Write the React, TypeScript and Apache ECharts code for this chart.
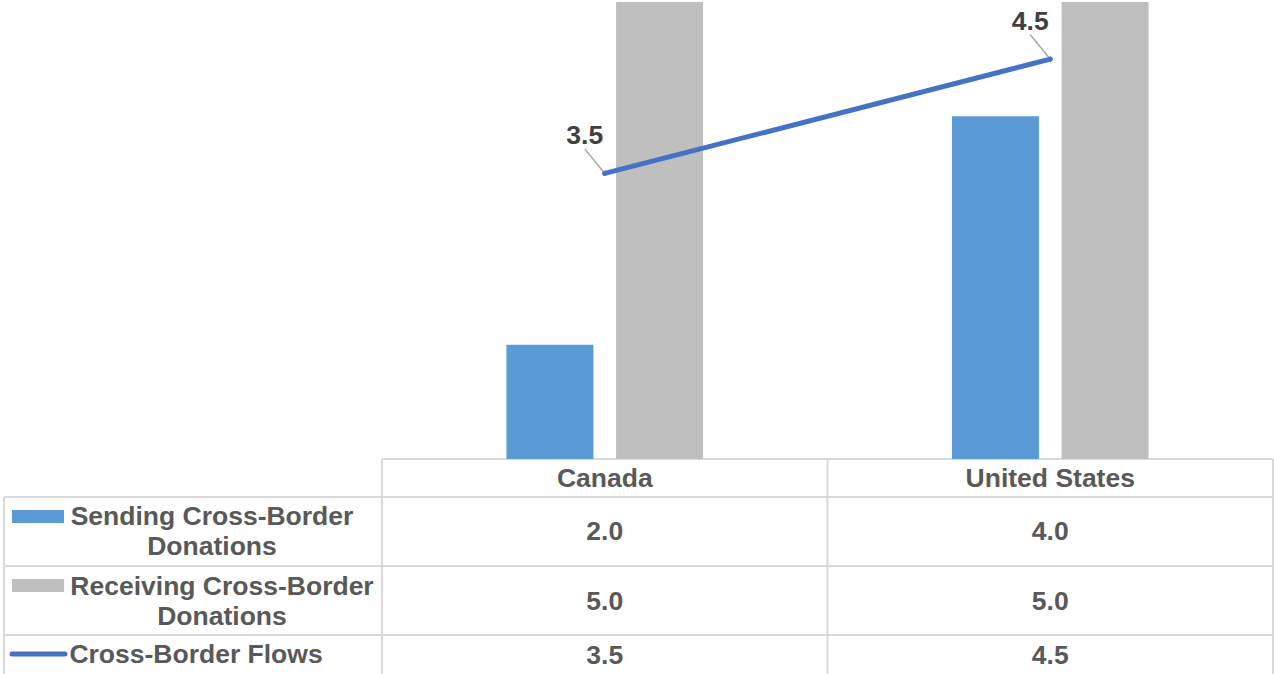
import React, { useEffect, useRef } from "react";
import * as echarts from "echarts";

const categories = ["Canada", "United States"];
const sendingValues = [2.0, 4.0];
const receivingValues = [5.0, 5.0];
const flowValues = [3.5, 4.5];
const seriesNames = ["Sending Cross-Border\nDonations", "Receiving Cross-Border\nDonations", "Cross-Border Flows"];

const TEXT = "#595959";
const BORDER = "#D9D9D9";
const FONT = "'Liberation Sans', Arial, sans-serif";

export default function App() {
  const ref = useRef<HTMLDivElement>(null);
  useEffect(() => {
    const chart = echarts.init(ref.current!, null, { renderer: "svg" });

    const gridLeft = 382;
    const gridRight = 1273;
    const tableTop = 459;
    const rows = [497, 566, 635];
    const colW = (gridRight - gridLeft) / categories.length;
    const colCenters = categories.map((_, i) => gridLeft + colW * (i + 0.5));

    const line = (x1: number, y1: number, x2: number, y2: number) => ({
      type: "line",
      shape: { x1, y1, x2, y2 },
      style: { stroke: BORDER, lineWidth: 2 },
      silent: true,
    });
    const txt = (x: number, y: number, t: string, extra: any = {}) => ({
      type: "text",
      x,
      y,
      style: {
        text: t,
        fill: TEXT,
        font: `bold 26.5px ${FONT}`,
        textAlign: "center",
        textVerticalAlign: "middle",
        lineHeight: 30,
        ...extra,
      },
      silent: true,
    });

    const graphics: any[] = [
      line(gridLeft, tableTop, gridRight, tableTop),
      line(4, rows[0], gridRight, rows[0]),
      line(4, rows[1], gridRight, rows[1]),
      line(4, rows[2], gridRight, rows[2]),
      line(4, rows[0], 4, 674),
      line(gridLeft, tableTop, gridLeft, 674),
      line(gridLeft + colW, tableTop, gridLeft + colW, 674),
      line(gridRight, tableTop, gridRight, 674),
    ];
    categories.forEach((c, i) => {
      graphics.push(txt(colCenters[i], 478, c));
      graphics.push(txt(colCenters[i], 531, sendingValues[i].toFixed(1)));
      graphics.push(txt(colCenters[i], 601, receivingValues[i].toFixed(1)));
      graphics.push(txt(colCenters[i], 655, flowValues[i].toFixed(1)));
    });
    // legend keys + row labels
    graphics.push({ type: "rect", shape: { x: 12, y: 510, width: 52, height: 13 }, style: { fill: "#5B9BD5" }, silent: true });
    graphics.push(txt(212, 531, seriesNames[0]));
    graphics.push({ type: "rect", shape: { x: 12, y: 579, width: 52, height: 13 }, style: { fill: "#BFBFBF" }, silent: true });
    graphics.push(txt(222, 601, seriesNames[1]));
    graphics.push({
      type: "line",
      shape: { x1: 12, y1: 654, x2: 65, y2: 654 },
      style: { stroke: "#4472C4", lineWidth: 5, lineCap: "round" },
      silent: true,
    });
    graphics.push(txt(196, 654, seriesNames[2]));

    chart.setOption({
      animation: false,
      backgroundColor: "#FFFFFF",
      grid: { left: gridLeft, top: 2, width: gridRight - gridLeft, height: tableTop - 2 },
      xAxis: {
        type: "category",
        data: categories,
        axisLine: { show: false },
        axisTick: { show: false },
        axisLabel: { show: false },
        splitLine: { show: false },
      },
      yAxis: {
        type: "value",
        min: 1,
        max: 5,
        show: false,
        splitLine: { show: false },
      },
      series: [
        {
          name: "Sending Cross-Border Donations",
          type: "bar",
          data: sendingValues,
          barWidth: 87,
          barGap: "26%",
          itemStyle: { color: "#5B9BD5" },
        },
        {
          name: "Receiving Cross-Border Donations",
          type: "bar",
          data: receivingValues,
          barWidth: 87,
          barGap: "26%",
          itemStyle: { color: "#BFBFBF" },
        },
        {
          name: "Cross-Border Flows",
          type: "line",
          data: flowValues,
          symbol: "circle",
          symbolSize: 5,
          itemStyle: { color: "#4472C4" },
          lineStyle: { color: "#4472C4", width: 5, cap: "round" },
          label: {
            show: true,
            position: "top",
            formatter: (p: any) => Number(p.value).toFixed(1),
            color: "#404040",
            fontWeight: "bold",
            fontSize: 26.5,
            fontFamily: FONT,
          },
          labelLayout: { dx: -20, dy: -17 },
          labelLine: { show: true, lineStyle: { color: "#A6A6A6", width: 1.5 } },
          z: 5,
        },
      ],
      graphic: graphics,
    });
    return () => chart.dispose();
  }, []);
  return (
    <div
      ref={ref}
      style={{ position: "fixed", left: 0, top: 0, width: 1274, height: 674, background: "#fff" }}
    />
  );
}
